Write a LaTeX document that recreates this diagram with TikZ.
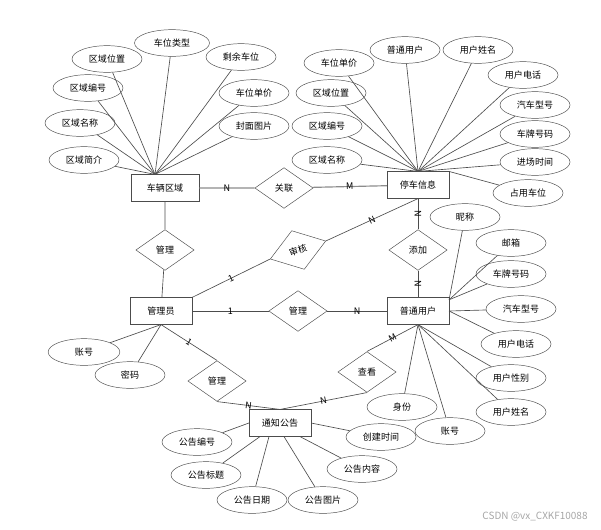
\documentclass[tikz,border=0pt]{standalone}
\usepackage{fontspec}
\newfontfamily\cjk{Noto Sans CJK SC}
\usepackage{tikz}
\usetikzlibrary{positioning}
\usetikzlibrary{shapes}
\tikzset{
  ernode/.style = {align=center, inner sep=0pt, text centered,
    font=\cjk\fontsize{7.7}{9}\selectfont},
  er_e/.style = {ernode, rectangle, draw=black!70, fill=white,
    minimum width=1.85cm, minimum height=0.8cm},% entite
  er_a/.style = {ernode, ellipse, draw=black!70,
    minimum width=2.1cm, minimum height=0.8cm},% attribut
  er_r/.style = {ernode, diamond, draw=black!70,
    minimum width=1.75cm, minimum height=1.22cm},% relation
  er_c/.style = {ernode, sloped},% cardinalite
  er_line/.style = {draw=black!70, line width=0.55pt}
}

\begin{document}
\begin{tikzpicture}[x=0.03cm, y=-0.03cm]
\useasboundingbox (0,0) rectangle (601,529);
% entites
\node [er_e, minimum width=2.05cm] (car) at (165,188) {车辆区域};
\node [er_e] (park) at (418,185) {停车信息};
\node [er_e] (admin) at (161,311) {管理员};
\node [er_e] (user) at (418,311) {普通用户};
\node [er_e] (notice) at (280,423) {通知公告};
% relations
\node [er_r] (rel_link) at (284,188) {关联};
\node [er_r] (rel_mgr1) at (165,250) {管理};
\node [er_r, rotate=18] (rel_audit) at (298,250) {审核};
\node [er_r] (rel_add) at (418,250) {添加};
\node [er_r] (rel_mgr2) at (298,311) {管理};
\node [er_r] (rel_mgr3) at (217,381) {管理};
\node [er_r] (rel_view) at (367,372) {查看};
% attributs车辆区域
\node [er_a] (car_pos) at (107,59) {区域位置};
\node [er_a, minimum width=2.25cm] (car_type) at (172,43) {车位类型};
\node [er_a] (car_left) at (241,57) {剩余车位};
\node [er_a] (car_no) at (88,88) {区域编号};
\node [er_a] (car_price) at (254,93) {车位单价};
\node [er_a] (car_name) at (80,123) {区域名称};
\node [er_a] (car_img) at (254,126) {封面图片};
\node [er_a] (car_intro) at (84,160) {区域简介};
% attributs停车信息
\node [er_a] (park_price) at (339,63) {车位单价};
\node [er_a] (park_user) at (405,50) {普通用户};
\node [er_a] (park_uname) at (478,50) {用户姓名};
\node [er_a] (park_tel) at (523,75) {用户电话};
\node [er_a] (park_pos) at (331,93) {区域位置};
\node [er_a] (park_model) at (535,105) {汽车型号};
\node [er_a] (park_no) at (327,126) {区域编号};
\node [er_a] (park_plate) at (535,134) {车牌号码};
\node [er_a] (park_name) at (327,160) {区域名称};
\node [er_a] (park_time) at (535,162) {进场时间};
\node [er_a] (park_occ) at (528,193) {占用车位};
% attributs普通用户
\node [er_a] (user_nick) at (465,217) {昵称};
\node [er_a] (user_mail) at (511,243) {邮箱};
\node [er_a] (user_plate) at (511,274) {车牌号码};
\node [er_a] (user_model) at (521,309) {汽车型号};
\node [er_a] (user_tel) at (516,344) {用户电话};
\node [er_a] (user_sex) at (511,378) {用户性别};
\node [er_a] (user_uname) at (511,412) {用户姓名};
\node [er_a] (user_role) at (402,407) {身份};
\node [er_a] (user_acc) at (450,431) {账号};
% attributs管理员
\node [er_a, minimum width=2.15cm] (admin_acc) at (84,352) {账号};
\node [er_a] (admin_pwd) at (130,375) {密码};
% attributs通知公告
\node [er_a] (notice_no) at (197,442) {公告编号};
\node [er_a] (notice_title) at (206,475) {公告标题};
\node [er_a] (notice_date) at (252,500) {公告日期};
\node [er_a] (notice_img) at (323,500) {公告图片};
\node [er_a] (notice_content) at (362,469) {公告内容};
\node [er_a] (notice_time) at (381,437) {创建时间};

% liens
\draw [draw=black!45, line width=1pt] (car) -- node [er_c] {N} (rel_link)
  -- node [er_c] {M} (park);
\draw [er_line] (car) -- (rel_mgr1) -- (admin);
\draw [er_line] (admin.north east) -- node [er_c] {1} (rel_audit.west);
\draw [er_line] (rel_audit.east) -- node [er_c] {N} (park.south);
\draw [er_line] (park) -- node [er_c] {N} (rel_add);
\draw [er_line] (rel_add) -- node [er_c] {N} (user);
\draw [er_line] (admin) -- node [er_c] {1} (rel_mgr2);
\draw [er_line] (rel_mgr2) -- node [er_c] {N} (user);
\draw [er_line] (admin.south) -- node [er_c] {1} (rel_mgr3.north);
\draw [er_line] (rel_mgr3.south) -- node [er_c] {N} (notice.north);
\draw [er_line] (user.south) -- node [er_c] {M} (rel_view.north);
\draw [er_line] (rel_view.south) -- node [er_c] {N} (notice.north);
% liens attributs
\foreach \a in {car_pos,car_type,car_left,car_no,car_price,car_name,car_img,car_intro}
  \draw [er_line] (\a) -- ([xshift=-0.3cm]car.north);
\foreach \a in {park_price,park_user,park_uname,park_tel,park_pos,park_model,park_no,park_plate,park_name,park_time}
  \draw [er_line] (\a) -- (park.north);
\draw [er_line] (park_occ) -- (park.north east);
\foreach \a in {user_nick,user_mail,user_plate}
  \draw [er_line] (\a) -- ([yshift=-2pt]user.north east);
\foreach \a in {user_model,user_tel}
  \draw [er_line] (\a) -- (user.east);
\foreach \a in {user_sex,user_uname,user_role,user_acc}
  \draw [er_line] (\a) -- (user.south);
\foreach \a in {admin_acc,admin_pwd}
  \draw [er_line] (\a) -- (admin.south);
\draw [er_line] (notice_no) -- (notice.west);
\draw [er_line] (notice_time) -- (notice.east);
\draw [er_line] (notice_title) -- ([xshift=-0.6cm]notice.south);
\draw [er_line] (notice_date) -- ([xshift=-0.33cm]notice.south);
\draw [er_line] (notice_img) -- ([xshift=0.12cm]notice.south);
\draw [er_line] (notice_content) -- ([xshift=0.6cm]notice.south);
% filigrane
\node [font=\cjk\fontsize{8.5}{10}\selectfont, text=black!35] (mark) at (535,517) {CSDN @vx\_CXKF10088};
\end{tikzpicture}
\end{document}
